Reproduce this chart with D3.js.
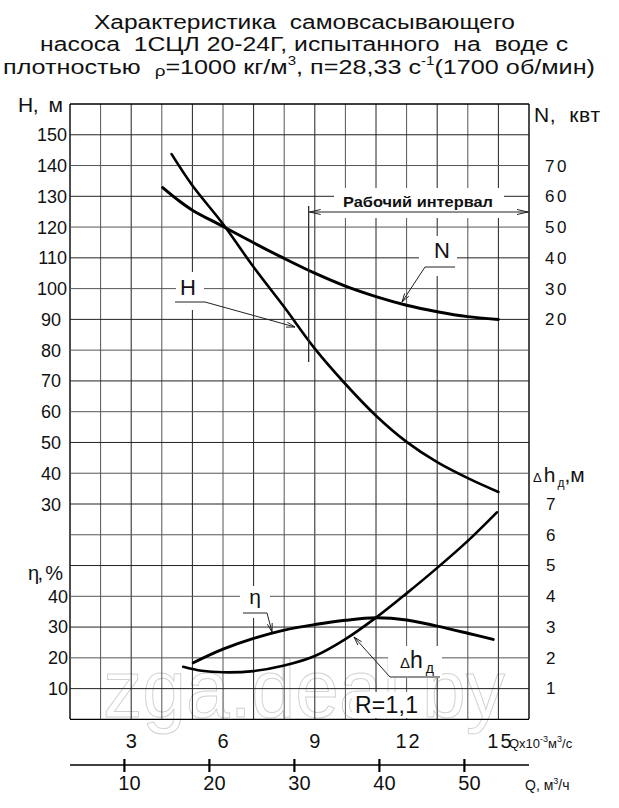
<!DOCTYPE html>
<html><head><meta charset="utf-8">
<script src="https://cdn.jsdelivr.net/npm/d3@7"></script>
<style>
body{margin:0;background:#fff}
svg{display:block}
text{font-family:"Liberation Sans",Arial,sans-serif;fill:#111;white-space:pre}
</style>
</head><body>
<svg id="c" width="619" height="808"></svg>
<script>
// ---------- data (Q in 10^-3 m3/s) ----------
const qH    = [4.32, 5, 6, 7, 8, 9, 10, 11, 12, 13, 14, 15];
const hVals = [143.7, 133.5, 121, 107, 94, 80.5, 69, 58.7, 50.2, 43.6, 38.4, 33.9];

const qN    = [4.03, 4.5, 5, 6, 7, 8, 9, 10, 11, 12, 13, 14, 15];
const nVals = [62.8, 59, 55.5, 50.2, 44.9, 39.8, 35, 30.8, 27.4, 24.6, 22.5, 20.9, 20];

const qEta    = [5.03, 6, 7, 8, 9, 10, 11, 12, 13, 14, 14.83];
const etaVals = [18.3, 22.7, 26.2, 28.9, 30.7, 32.1, 32.9, 32.2, 30.2, 27.9, 25.9];

const qDh    = [4.7, 5.3, 6, 7, 8, 9, 10, 11, 12, 13, 14, 14.95];
const dhVals = [1.7, 1.57, 1.52, 1.56, 1.74, 2.05, 2.6, 3.3, 4.09, 4.92, 5.8, 6.73];

const hTicks   = [150, 140, 130, 120, 110, 100, 90, 80, 70, 60, 50, 40, 30];
const nTicks   = [70, 60, 50, 40, 30, 20];
const etaTicks = [40, 30, 20, 10];
const dhTicks  = [7, 6, 5, 4, 3, 2, 1];
const qTicks   = [3, 6, 9, 12, 15];          // 10^-3 m3/s
const qhTicks  = [10, 20, 30, 40, 50];       // m3/h
const workInterval = [8.8, 16];              // Q, 10^-3 m3/s

// ---------- scales ----------
const svg = d3.select("#c");
const x   = d3.scaleLinear().domain([1, 16]).range([70, 529]);
const yH  = d3.scaleLinear().domain([30, 160]).range([504, 104]);
const yN  = d3.scaleLinear().domain([20, 70]).range([yH(90), yH(140)]);
const yEta= d3.scaleLinear().domain([0, 40]).range([719, 596]);
const yDh = d3.scaleLinear().domain([0, 7]).range([719, 504]);
const xh  = d3.scaleLinear().domain([3.6, 57.6]).range([70, 529]);

// ---------- watermark ----------
svg.append("text").attr("x", 103).attr("y", 717)
  .attr("textLength", 402).attr("lengthAdjust", "spacingAndGlyphs")
  .style("font-size", "81px").style("fill", "none")
  .style("stroke", "#d2d2d2").style("stroke-width", 1)
  .text("zga.deal.by");

// ---------- grid ----------
const grid = svg.append("g");
const gx = d3.range(1, 17);
const gyH = d3.range(160, -41, -10);
grid.selectAll("line.v").data(gx).join("line")
  .attr("x1", d => x(d)).attr("x2", d => x(d))
  .attr("y1", yH(160)).attr("y2", yEta(0))
  .attr("stroke", (d, i) => (d === 1 || d === 16) ? "#000" : (i % 2 ? "#555" : "#222"))
  .attr("stroke-width", (d) => (d === 1 || d === 16) ? 1.4 : 1);
grid.selectAll("line.h").data(gyH).join("line")
  .attr("x1", x(1)).attr("x2", x(16))
  .attr("y1", d => yH(d)).attr("y2", d => yH(d))
  .attr("stroke", (d, i) => (i === 0 || i === gyH.length - 1) ? "#000" : (i % 2 ? "#222" : "#555"))
  .attr("stroke-width", (d, i) => (i === 0 || i === gyH.length - 1) ? 1.4 : 1);

// ---------- white label boxes ----------
const boxes = [
  [334, 188, 170, 30],   // Рабочий интервал
  [176, 272, 28, 38],    // H
  [419, 236, 38, 40],    // N
  [240, 586, 30, 32],    // η
  [388, 646, 54, 32],    // Δh
  [352, 692, 68, 26]     // R=1,1
];
svg.append("g").selectAll("rect").data(boxes).join("rect")
  .attr("x", d => d[0]).attr("y", d => d[1]).attr("width", d => d[2]).attr("height", d => d[3])
  .attr("fill", "#fff");

// ---------- curves ----------
const mk = (qs, vs, ys) => qs.map((q, i) => [x(q), ys(vs[i])]);
const line = d3.line().curve(d3.curveCatmullRom.alpha(0.5));
const curves = svg.append("g").attr("fill", "none").attr("stroke", "#000")
  .attr("stroke-linecap", "round").attr("stroke-linejoin", "round");
curves.append("path").attr("d", line(mk(qH, hVals, yH))).attr("stroke-width", 2.6);
curves.append("path").attr("d", line(mk(qN, nVals, yN))).attr("stroke-width", 3);
curves.append("path").attr("d", line(mk(qEta, etaVals, yEta))).attr("stroke-width", 3);
curves.append("path").attr("d", line(mk(qDh, dhVals, yDh))).attr("stroke-width", 2.6);

// ---------- working interval ----------
const wi = svg.append("g").attr("stroke", "#222").attr("fill", "none");
const wy = 212;
wi.append("line").attr("x1", x(workInterval[0])).attr("x2", x(workInterval[1]))
  .attr("y1", wy).attr("y2", wy).attr("stroke-width", 1);
wi.append("line").attr("x1", x(workInterval[0])).attr("x2", x(workInterval[0]))
  .attr("y1", 206).attr("y2", 362).attr("stroke-width", 1.2);
wi.append("path").attr("d", `M${x(workInterval[0]) + 12},${wy - 2.5} L${x(workInterval[0]) + 1},${wy} L${x(workInterval[0]) + 12},${wy + 2.5}`).attr("stroke-width", 1);
wi.append("path").attr("d", `M${x(workInterval[1]) - 12},${wy - 2.5} L${x(workInterval[1]) - 1},${wy} L${x(workInterval[1]) - 12},${wy + 2.5}`).attr("stroke-width", 1);
svg.append("text").attr("x", 343).attr("y", 207)
  .attr("textLength", 150).attr("lengthAdjust", "spacingAndGlyphs")
  .style("font-size", "14px").style("font-weight", "bold").text("Рабочий интервал");

// ---------- leaders ----------
const lead = svg.append("g").attr("stroke", "#222").attr("fill", "none").attr("stroke-width", 1);
function leader(pts) {
  lead.append("polyline").attr("points", pts.map(p => p.join(",")).join(" "));
  const [a, b] = pts.slice(-2);
  const ang = Math.atan2(b[1] - a[1], b[0] - a[0]);
  const L = 9, w = 0.28;
  const p1 = [b[0] - L * Math.cos(ang - w), b[1] - L * Math.sin(ang - w)];
  const p2 = [b[0] - L * Math.cos(ang + w), b[1] - L * Math.sin(ang + w)];
  lead.append("path").attr("d", `M${p1} L${b} L${p2}`);
}
leader([[175, 302], [205, 302], [295, 327]]);
leader([[455, 267], [425, 267], [402, 302]]);
leader([[243, 613], [267, 613], [272, 632]]);
leader([[440, 677], [390, 677], [354, 637]]);

// ---------- curve labels ----------
svg.append("text").attr("x", 188).attr("y", 295).attr("text-anchor", "middle").style("font-size", "22px").text("H");
svg.append("text").attr("x", 442).attr("y", 258).attr("text-anchor", "middle").style("font-size", "22px").text("N");
svg.append("text").attr("x", 255).attr("y", 604).attr("text-anchor", "middle").style("font-size", "21px").text("η");
const dhl = svg.append("text").attr("x", 400).attr("y", 668).style("font-size", "23px");
dhl.append("tspan").style("font-size", "15px").text("Δ");
dhl.append("tspan").text("h");
dhl.append("tspan").attr("dx", 3).attr("dy", 5).style("font-size", "14px").text("д");
svg.append("text").attr("x", 355).attr("y", 713).attr("textLength", 63).style("font-size", "23px").text("R=1,1");

// ---------- left axis labels ----------
svg.append("text").attr("x", 18).attr("y", 112).attr("textLength", 45).style("font-size", "21px").text("H,  м");
svg.append("g").selectAll("text").data(hTicks).join("text")
  .attr("x", d => d >= 100 ? 67 : 61).attr("y", d => yH(d) + 6.5)
  .attr("text-anchor", "end").style("font-size", "18px").text(d => d);
svg.append("text").attr("x", 28).attr("y", 580).attr("textLength", 35).style("font-size", "20px").text("η, %");
svg.append("g").selectAll("text").data(etaTicks).join("text")
  .attr("x", 68).attr("y", d => yEta(d) + 6.5)
  .attr("text-anchor", "end").style("font-size", "18px").text(d => d);

// ---------- right axis labels ----------
svg.append("text").attr("x", 534).attr("y", 122).attr("textLength", 66).style("font-size", "21px").text("N,  квт");
svg.append("g").selectAll("text").data(nTicks).join("text")
  .attr("x", 545).attr("y", d => yN(d) + 6)
  .style("font-size", "17px").style("letter-spacing", "2.5px").text(d => d);
const dht = svg.append("text").attr("x", 533).attr("y", 482).style("font-size", "21px");
dht.append("tspan").style("font-size", "13px").text("Δ");
dht.append("tspan").attr("dx", 2).text("h");
dht.append("tspan").attr("dx", 2).attr("dy", 5).style("font-size", "12px").text("д");
dht.append("tspan").attr("dy", -5).text(",м");
svg.append("g").selectAll("text").data(dhTicks).join("text")
  .attr("x", 546).attr("y", d => yDh(d) + 6)
  .style("font-size", "17px").text(d => d);

// ---------- bottom axes ----------
svg.append("g").selectAll("text").data(qTicks).join("text")
  .attr("x", d => x(d) + (d >= 10 ? 2 : 0)).attr("y", 748).attr("text-anchor", "middle")
  .style("font-size", "20px").style("letter-spacing", d => d >= 10 ? "2px" : "0px").text(d => d);
const qlab = svg.append("text").attr("x", 509).attr("y", 748).style("font-size", "13px");
qlab.append("tspan").text("Qx10");
qlab.append("tspan").attr("dy", -6).style("font-size", "9px").text("-3");
qlab.append("tspan").attr("dy", 6).text("м");
qlab.append("tspan").attr("dy", -6).style("font-size", "9px").text("3");
qlab.append("tspan").attr("dy", 6).text("/с");

svg.append("line").attr("x1", 70).attr("x2", 529).attr("y1", 765).attr("y2", 765)
  .attr("stroke", "#000").attr("stroke-width", 1.3);
svg.append("g").selectAll("line").data(qhTicks).join("line")
  .attr("x1", d => xh(d)).attr("x2", d => xh(d)).attr("y1", 759).attr("y2", 772)
  .attr("stroke", "#000").attr("stroke-width", 2.2);
svg.append("g").selectAll("text").data(qhTicks).join("text")
  .attr("x", d => xh(d) + 5).attr("y", 790).attr("text-anchor", "middle")
  .style("font-size", "20px").text(d => d);
const qhl = svg.append("text").attr("x", 525).attr("y", 790).style("font-size", "14px");
qhl.append("tspan").text("Q, м");
qhl.append("tspan").attr("dy", -6).style("font-size", "9px").text("3");
qhl.append("tspan").attr("dy", 6).text("/ч");

// ---------- title ----------
const T = svg.append("g").style("font-size", "20px");
T.append("text").attr("x", 94).attr("y", 29).attr("textLength", 421).attr("lengthAdjust", "spacingAndGlyphs")
  .text("Характеристика  самовсасывающего");
T.append("text").attr("x", 40).attr("y", 51).attr("textLength", 528).attr("lengthAdjust", "spacingAndGlyphs")
  .text("насоса  1СЦЛ 20-24Г, испытанного  на  воде с");
const t3 = T.append("text").attr("x", 3).attr("y", 74).attr("textLength", 592).attr("lengthAdjust", "spacingAndGlyphs");
t3.append("tspan").text("плотностью  ");
t3.append("tspan").attr("dy", 2).style("font-size", "15px").text("ρ");
t3.append("tspan").attr("dy", -2).text("=1000 кг/м");
t3.append("tspan").attr("dy", -9).style("font-size", "12px").text("3");
t3.append("tspan").attr("dy", 9).text(", п=28,33 с");
t3.append("tspan").attr("dy", -9).style("font-size", "12px").text("-1");
t3.append("tspan").attr("dy", 9).text("(1700 об/мин)");
</script>
</body></html>
